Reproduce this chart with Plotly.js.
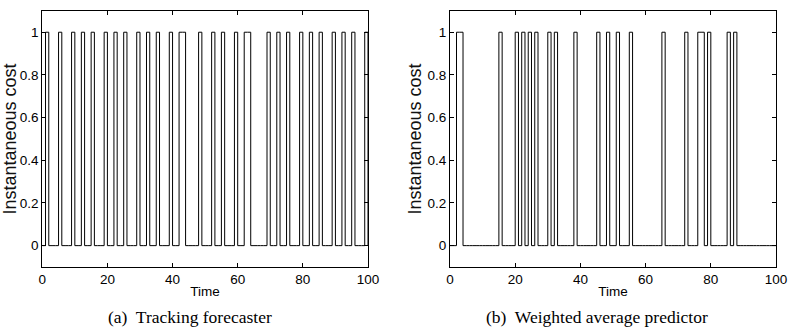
<!DOCTYPE html>
<html>
<head>
<meta charset="utf-8">
<script src="https://cdn.plot.ly/plotly-3.0.1.min.js"></script>
<style>html,body{margin:0;padding:0;background:#fff;}#chart{width:790px;height:330px;}</style>
</head>
<body>
<div id="chart"></div>
<script>
// Time steps (integer t) at which the instantaneous cost is 1 over [t, t+1]
const timeStart = 0;
const timeEnd = 100;
const onTimesTracking = [1,5,9,12,15,19,22,25,29,32,35,39,42,43,48,52,55,59,62,63,69,72,75,79,82,85,89,92,95,99];
const onTimesWeighted = [2,3,15,20,22,24,26,30,32,38,45,48,51,55,65,72,76,77,79,85,87];
const xTickVals = [0,20,40,60,80,100];
const yTickVals = [0,0.2,0.4,0.6,0.8,1];
const yTickText = ['0','0.2','0.4','0.6','0.8','1'];
const captions = ['(a)  Tracking forecaster', '(b)  Weighted average predictor'];

function series(onTimes){
  const x=[], y=[];
  for(let t=timeStart;t<=timeEnd;t++){ x.push(t); y.push(onTimes.includes(t)?1:0); }
  return {x,y};
}
const sA = series(onTimesTracking), sB = series(onTimesWeighted);
const lineStyle = {color:'#000', width:1, shape:'hv'};
const traces = [
  {x:sA.x, y:sA.y, type:'scatter', mode:'lines', line:lineStyle, xaxis:'x', yaxis:'y', hoverinfo:'skip'},
  {x:sB.x, y:sB.y, type:'scatter', mode:'lines', line:lineStyle, xaxis:'x2', yaxis:'y2', hoverinfo:'skip'}
];
const font = {family:'Liberation Sans, Arial, sans-serif', size:13.5, color:'#000'};
const yTitleFont = {family:'Liberation Sans, Arial, sans-serif', size:18, color:'#111'};
const capFont = {family:'Liberation Serif, Times New Roman, serif', size:17.5, color:'#000'};
function xa(dom){ return {domain:dom, range:[0,100], tickvals:xTickVals, ticks:'inside', ticklen:4, tickcolor:'#000',
  showline:true, linecolor:'#000', linewidth:1, mirror:'allticks', showgrid:false, zeroline:false, tickfont:font,
  title:{text:'Time', font:font, standoff:0}}; }
function ya(anchor){ return {domain:[0.191,0.967], range:[-0.1,1.1], tickvals:yTickVals, ticktext:yTickText, ticks:'inside', ticklen:4, tickcolor:'#000',
  showline:true, linecolor:'#000', linewidth:1, mirror:'allticks', showgrid:false, zeroline:false, tickfont:font, anchor:anchor,
  title:{text:'Instantaneous cost', font:yTitleFont, standoff:1}}; }
const layout = {
  width:790, height:330, margin:{l:0,r:0,t:0,b:0}, showlegend:false,
  paper_bgcolor:'#fff', plot_bgcolor:'#fff', font:font,
  xaxis:Object.assign(xa([0.0535,0.4658]),{anchor:'y'}),
  yaxis:ya('x'),
  xaxis2:Object.assign(xa([0.5696,0.9823]),{anchor:'y2'}),
  yaxis2:ya('x2'),
  annotations:[
    {text:captions[0], xref:'paper', yref:'paper', x:190/790, y:1-317/330, xanchor:'center', yanchor:'middle', showarrow:false, font:capFont},
    {text:captions[1], xref:'paper', yref:'paper', x:597/790, y:1-317/330, xanchor:'center', yanchor:'middle', showarrow:false, font:capFont}
  ]
};
Plotly.newPlot('chart', traces, layout, {displayModeBar:false, staticPlot:true});
</script>
</body>
</html>
